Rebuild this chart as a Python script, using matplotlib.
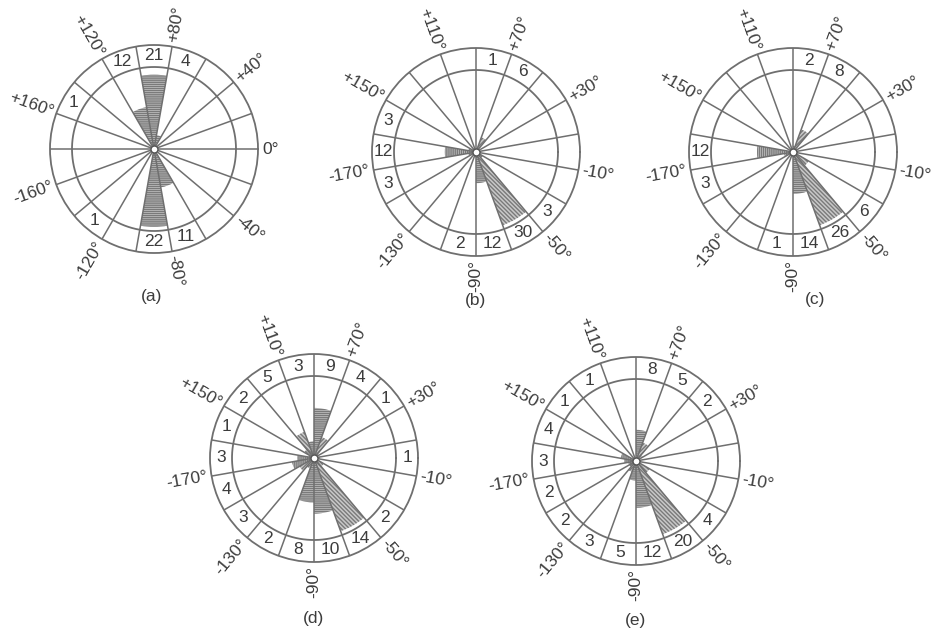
import numpy as np
import matplotlib
matplotlib.use("Agg")
import matplotlib.pyplot as plt
from matplotlib import font_manager

_names = {f.name for f in font_manager.fontManager.ttflist}
_fam = [n for n in ['DejaVu Sans Condensed', 'Liberation Sans Narrow', 'Liberation Sans'] if n in _names]
plt.rcParams['font.family'] = _fam + ['DejaVu Sans']

# ---------------- data ----------------
# sector centres (deg, counter-clockwise from east) and counts
A_SECT = [70, 90, 110, 150, -130, -90, -70]
A_CNT = [4, 21, 12, 1, 1, 22, 11]

B_SECT = [80, 60, 180, 160, -160, -100, -80, -60, -40]
B_CNT = [1, 6, 12, 3, 3, 2, 12, 30, 3]

C_SECT = [80, 60, 180, -160, -100, -80, -60, -40]
C_CNT = [2, 8, 12, 3, 1, 14, 26, 6]

D_SECT = [100, 80, 60, 40, 0, -40, -60, -80, -100, -120, -140, -160, 180, 160, 140, 120]
D_CNT = [3, 9, 4, 1, 1, 2, 14, 10, 8, 2, 3, 4, 3, 1, 2, 5]

E_SECT = [80, 60, 40, -40, -60, -80, -100, -120, -140, -160, 180, 160, 140, 120]
E_CNT = [8, 5, 2, 4, 20, 12, 5, 3, 2, 2, 3, 4, 1, 1]

A_TICK_ANG = [0, 40, 80, 120, 160, -160, -120, -80, -40]
A_TICK_LAB = ["0°", "+40°", "+80°", "+120°", "+160°", "-160°", "-120°", "-80°", "-40°"]

BE_TICK_ANG = [70, 110, 150, -170, -130, -90, -50, -10, 30]
BE_TICK_LAB = ["+70°", "+110°", "+150°", "-170°", "-130°", "-90°", "-50°", "-10°", "+30°"]

PANEL_LABELS = ["(a)", "(b)", "(c)", "(d)", "(e)"]

# ---------------- layout (pixels) ----------------
W, H = 935, 631
CENTERS = [(154, 149), (476, 152), (793, 152), (314, 458), (636, 461)]
CAPTIONS = [(152, 297), (476, 301), (815, 299), (314, 619), (636, 621)]
R_OUT = 104.0
R_IN = 82.0
SECTOR_W = 20

LINE_C = '#6f6f6f'
TEXT_C = '#3c3c3c'
FS_NUM = 12.5
FS_ANG = 12.5

fig = plt.figure(figsize=(W / 100, H / 100), dpi=100)
fig.patch.set_facecolor('white')


def hatch_for(a):
    a = (a + 180) % 360 - 180
    if 70 <= abs(a) <= 110:
        return '--------'
    if abs(a) >= 160 or abs(a) <= 20:
        return '||||||||'
    if (20 < a < 70) or (-160 < a < -110):
        return '////////'
    return '\\\\\\\\\\\\\\\\'


def rose(center, sect, cnt, tick_ang, tick_lab):
    cx, cy = center
    rect = [(cx - R_OUT) / W, 1 - (cy + R_OUT) / H, 2 * R_OUT / W, 2 * R_OUT / H]
    ax = fig.add_axes(rect, projection='polar')
    rin = max(cnt) / 0.95
    rout = rin * R_OUT / R_IN
    ax.set_ylim(0, rout)
    ax.set_xticks([])
    ax.set_yticks([])
    ax.grid(False)
    ax.spines['polar'].set_color(LINE_C)
    ax.spines['polar'].set_linewidth(1.3)

    # hatched wedges
    bars = ax.bar(np.radians(sect), cnt, width=np.radians(SECTOR_W), bottom=0,
                  align='center', color='#c8c8c8', edgecolor='#7a7a7a',
                  linewidth=0, zorder=2)
    for b, a in zip(bars, sect):
        b.set_hatch(hatch_for(a))

    # inner circle
    th = np.linspace(0, 2 * np.pi, 400)
    ax.plot(th, np.full_like(th, rin), color=LINE_C, lw=1.3, zorder=3)

    # sector boundaries
    off = (sect[0] - SECTOR_W / 2) % SECTOR_W
    for bdeg in np.arange(off, 360, SECTOR_W):
        ax.plot([np.radians(bdeg)] * 2, [0, rout], color=LINE_C, lw=1.1, zorder=3)

    # centre dot
    ax.plot([0], [0], marker='o', ms=5, mfc='white', mec='#555555', mew=1.0, zorder=4)

    # counts in the outer ring
    rmid = (rin + rout) / 2
    for a, c in zip(sect, cnt):
        ax.text(np.radians(a), rmid, str(c), ha='center', va='center',
                fontsize=FS_NUM, color=TEXT_C, zorder=5)

    # angle labels
    rl = rout * (1 + 4 / R_OUT)
    for a, lab in zip(tick_ang, tick_lab):
        if -90 < a <= 90:
            rot, ha = a, 'left'
        else:
            rot, ha = a - 180 if a > 0 else a + 180, 'right'
        ax.text(np.radians(a), rl, lab, rotation=rot, rotation_mode='anchor',
                ha=ha, va='center', fontsize=FS_ANG, color=TEXT_C, clip_on=False)
    return ax


DATA = [(A_SECT, A_CNT, A_TICK_ANG, A_TICK_LAB),
        (B_SECT, B_CNT, BE_TICK_ANG, BE_TICK_LAB),
        (C_SECT, C_CNT, BE_TICK_ANG, BE_TICK_LAB),
        (D_SECT, D_CNT, BE_TICK_ANG, BE_TICK_LAB),
        (E_SECT, E_CNT, BE_TICK_ANG, BE_TICK_LAB)]

for center, (s, c, ta, tl), cap, pl in zip(CENTERS, DATA, CAPTIONS, PANEL_LABELS):
    rose(center, s, c, ta, tl)
    fig.text(cap[0] / W, 1 - cap[1] / H, pl, ha='center', va='center',
             fontsize=FS_NUM, color=TEXT_C)

fig.savefig('out.png', dpi=100, facecolor='white')
